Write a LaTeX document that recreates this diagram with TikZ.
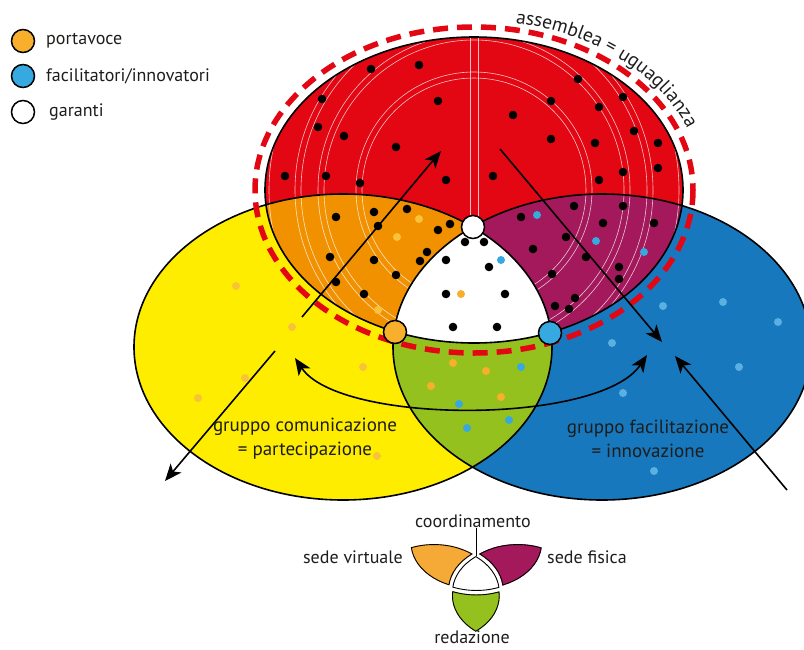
\documentclass[tikz,border=0pt]{standalone}
\usepackage{fontspec}
\setmainfont{PT Sans}
\usetikzlibrary{arrows.meta,decorations.text}
\definecolor{cRed}{HTML}{E30613}
\definecolor{cYel}{HTML}{FFED00}
\definecolor{cBlu}{HTML}{1878BE}
\definecolor{cOra}{HTML}{F29100}
\definecolor{cPur}{HTML}{A3195B}
\definecolor{cGre}{HTML}{95C11F}
\definecolor{cOrDot}{HTML}{F8B02C}
\definecolor{cBlDot}{HTML}{36A9E1}
\definecolor{cYelDot}{HTML}{F8C23A}
\definecolor{cBlLt}{HTML}{5BB0E2}
\definecolor{cOrL}{HTML}{F5AA37}
\definecolor{txt}{HTML}{1D1D1B}
\begin{document}
\begin{tikzpicture}[x=1pt,y=-1pt,
  outl/.style={draw=black, line width=1.6pt},
  arcline/.style={draw=white, line width=0.6pt, opacity=0.75},
  arr/.style={draw=black, line width=1.6pt, -{Stealth[length=17pt,width=14pt,inset=4.5pt]}},
  darr/.style={draw=black, line width=1.6pt, {Stealth[length=17pt,width=14pt,inset=4.5pt]}-{Stealth[length=17pt,width=14pt,inset=4.5pt]}},
  vtx/.style={circle, draw=black, line width=1.5pt, minimum size=23pt, inner sep=0pt},
  lgd/.style={circle, draw=black, line width=1.5pt, minimum size=23pt, inner sep=0pt},
  lbl/.style={font=\fontsize{18}{23}\selectfont, text=txt, inner sep=0pt},
  biglbl/.style={font=\fontsize{19}{24}\selectfont, text=txt, inner sep=0pt},
  thinout/.style={draw=black, line width=1.8pt},
]
\useasboundingbox (0,0) rectangle (804,649);
\clip (0,0) rectangle (804,649);
\def\ER{(474,190) ellipse [x radius=209, y radius=153]}
\def\EY{(343,347) ellipse [x radius=209, y radius=153]}
\def\EB{(602,347) ellipse [x radius=209, y radius=153]}
\def\BIG{(-700,-700) rectangle (1700,1700)}

% ---------- main fills
\fill[cYel] \EY;
\fill[cBlu] \EB;
\fill[cRed] \ER;
\begin{scope}\clip \ER; \fill[cOra] \EY; \end{scope}
\begin{scope}\clip \ER; \fill[cPur] \EB; \end{scope}
\begin{scope}\clip \EY; \fill[cGre] \EB; \end{scope}
% decorative white arcs
\begin{scope}
  \clip \ER;
  \foreach \r in {112,118,150,156,173,179,205,211}
    \draw[arcline] (474,190) circle (\r pt);
  \draw[arcline] (470.5,30) -- (470.5,230);
  \draw[arcline] (478.5,30) -- (478.5,230);
\end{scope}
\begin{scope}\clip \ER; \clip \EY; \fill[white] \EB; \end{scope}
% outlines
\draw[outl] \EY;
\draw[outl] \EB;
\draw[outl] \ER;
% dashed assembly ellipse
\draw[cRed, line width=5.5pt, dash pattern=on 15pt off 9pt] (474,190) ellipse [x radius=219, y radius=163];

% ---------- dots
\foreach \x/\y in {371/69,419/65,322/99,438/101,318/127,344/136,396/147,285/176,326/176,360/183,446/180,
  578/79,551/101,623/97,513/115,599/107,551/139,634/131,595/143,658/143,493/176,623/172,599/180,658/168,
  336/217,374/212,407/209,378/226,438/230,450/224,330/257,374/260,427/252,420/261,396/275,336/282,364/294,
  521/217,574/206,623/206,603/223,654/223,566/237,533/249,586/257,619/267,619/279,552/274,575/298,555/306,569/309,
  465/242,484/242,446/260,489/267,446/294,505/294,453/327,497/327}
  \fill[black] (\x,\y) circle (4.3pt);
\foreach \x/\y in {419/219,397/237,378/310,236/286,292/327,363/367,245/378,198/398,377/456}
  \fill[cYelDot] (\x,\y) circle (4pt);
\foreach \x/\y in {453/363,486/371,431/386,501/397,461/294}
  \fill[cOrDot] (\x,\y) circle (4pt);
\foreach \x/\y in {521/367,459/404,509/420,467/428,501/260,537/215,596/241,644/252}
  \fill[cBlDot] (\x,\y) circle (4pt);
\foreach \x/\y in {663/306,723/302,778/322,612/343,739/367,623/393,654/471}
  \fill[cBlLt] (\x,\y) circle (4pt);

% ---------- arrows
\coordinate (a1s) at (302,317); \coordinate (a1e) at (441,151);
\coordinate (a2s) at (500,149); \coordinate (a2e) at (662,342);
\coordinate (a3s) at (275,351); \coordinate (a3e) at (165,481);
\coordinate (a4s) at (787,490); \coordinate (a4e) at (675,356);
\coordinate (a5s) at (295,358); \coordinate (a5e) at (647,355);
\draw[arr] (a1s) -- (a1e);
\draw[arr] (a2s) -- (a2e);
\draw[arr] (a3s) -- (a3e);
\draw[arr] (a4s) -- (a4e);
\draw[darr] (a5s) .. controls (340,425) and (600,425) .. (a5e);

% ---------- vertex circles
\node[vtx, fill=cOrDot] (vO) at (395,332) {};
\node[vtx, fill=white] (vW) at (473,227) {};
\node[vtx, fill=cBlDot] (vB) at (550,333) {};

% ---------- texts
\coordinate (asmStart) at (515.5,23.1);
\path[decorate, decoration={text along path, text color=txt,
  text={|\fontsize{19.5}{19.5}\selectfont|assemblea = uguaglianza}, text align={left indent=0pt}}]
  (asmStart) arc[start angle=80, end angle=2, x radius=227pt, y radius=170pt];
\node[biglbl, align=center] (gY) at (305,439) {gruppo comunicazione\\= partecipazione};
\node[biglbl, align=center] (gB) at (648,439) {gruppo facilitazione\\= innovazione};

% ---------- legend
\node[lgd, fill=cOrDot] (l1) at (23,41) {};
\node[lgd, fill=cBlDot] (l2) at (23,76) {};
\node[lgd, fill=white] (l3) at (23,112) {};
\node[lbl, anchor=west] (t1) at (46,41) {portavoce};
\node[lbl, anchor=west] (t2) at (46,76) {facilitatori/innovatori};
\node[lbl, anchor=west] (t3) at (49,112) {garanti};

% ---------- small trefoil
\begin{scope}[shift={(334.1,488)}, xscale=0.3, yscale=0.3]
  \begin{scope}[shift={(-10,-7)}]
    \clip \ER; \clip \EY;
    \begin{scope}[even odd rule]
      \clip \BIG \EB;
      \fill[cOrL] \BIG;
      \draw[thinout] \ER \EY \EB;
    \end{scope}
  \end{scope}
  \begin{scope}[shift={(10,-7)}]
    \clip \ER; \clip \EB;
    \begin{scope}[even odd rule]
      \clip \BIG \EY;
      \fill[cPur] \BIG;
      \draw[thinout] \ER \EY \EB;
    \end{scope}
  \end{scope}
  \begin{scope}[shift={(0,12)}]
    \clip \EY; \clip \EB;
    \begin{scope}[even odd rule]
      \clip \BIG \ER;
      \fill[cGre] \BIG;
      \draw[thinout] \ER \EY \EB;
    \end{scope}
  \end{scope}
  \begin{scope}
    \clip \ER; \clip \EY; \clip \EB;
    \fill[white] \BIG;
    \draw[thinout] \ER \EY \EB;
  \end{scope}
\end{scope}
\node[lbl] (co) at (473,521) {coordinamento};
\node[lbl, anchor=east] (sv) at (403,557) {sede virtuale};
\node[lbl, anchor=west] (sf) at (547,557) {sede fisica};
\node[lbl] (re) at (472,637) {redazione};
\coordinate (coEnd) at (476,556);
\draw[black, line width=0.7pt] (co.south -| coEnd) -- (coEnd);
\end{tikzpicture}
\end{document}
